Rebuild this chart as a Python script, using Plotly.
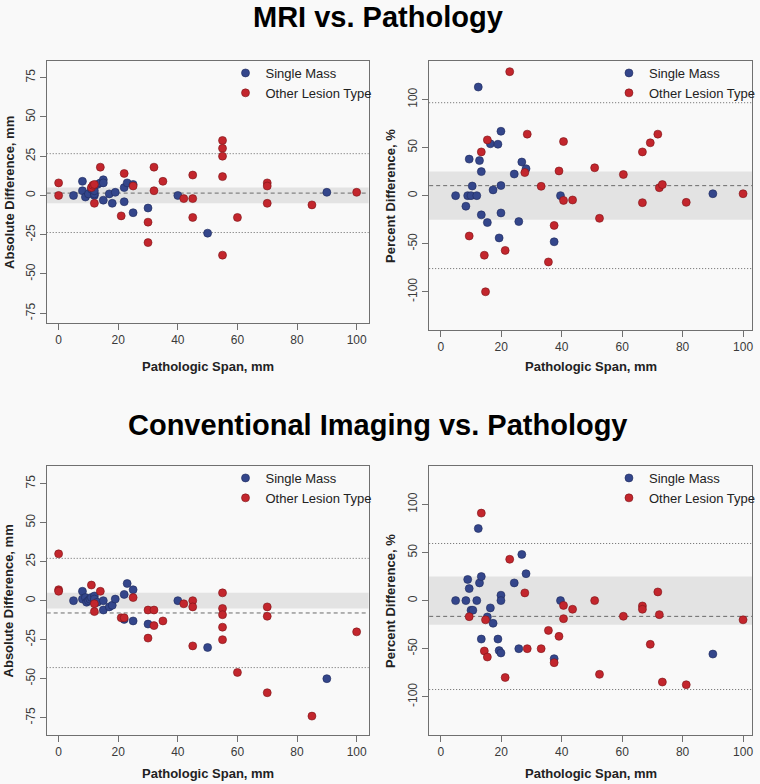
import plotly.graph_objects as go

# ---------------- data ----------------
# MRI vs Pathology, absolute difference (mm)
mri_abs_single_x = [5, 8, 8, 9, 10, 11, 12, 12, 12, 13, 14, 15, 15, 15, 17, 18, 19, 22, 22, 23, 25, 25, 30, 40, 50, 90]
mri_abs_single_y = [0, 9, 3, -1, 1, 4, 0, 1, 3, 7, 8, 10, 8, -3, 1, -5, 2, 5, -4, 8, 7, -11, -8, 0, -24, 2]
mri_abs_other_x = [0, 0, 11, 11.5, 12, 12, 14, 21, 22, 25, 30, 30, 32, 32, 35, 42, 45, 45, 45, 55, 55, 55, 55, 55, 60, 70, 70, 70, 85, 100]
mri_abs_other_y = [8, 0, 5, 6.5, 7, -5, 18, -13, 14, 6, -17, -30, 18, 3, 9, -2, 13, -2, -14, 35, 30, 25, 12, -38, -14, 8, 6, -5, -6, 2]

# MRI vs Pathology, percent difference (%)
mri_pct_single_x = [4.9, 8.3, 8.9, 9.4, 10, 10.4, 11.9, 12.4, 12.8, 13.4, 13.4, 15.4, 16.4, 17.3, 18.9, 19.3, 19.9, 19.9, 19.9, 24.3, 25.8, 26.8, 28.2, 37.5, 39.6, 90]
mri_pct_single_y = [0, -11, 0, 38, 0, 10, 0, 113, 36.5, 25, -20, -28, 54, 6, 53.5, -44, 67, 10.5, -18, 22.5, -27, 35, 28, -48, 0, 2]
mri_pct_other_x = [9.4, 13.4, 14.4, 14.8, 15.4, 21.3, 22.8, 27.8, 28.6, 33.2, 35.6, 37.5, 39.1, 40.6, 40.6, 43.6, 50.9, 52.5, 60.4, 66.7, 66.7, 69.3, 71.8, 72.3, 73.3, 81.2, 100]
mri_pct_other_y = [-42, 45.5, -62, -100, 58, -57, 129, 24, 64, 9.7, -69, -31, 25.7, 56.3, -5, -4.5, 29, -23.6, 22, 45.5, -7.3, 55, 64, 8.3, 11.5, -7, 2]

# Conventional imaging vs Pathology, absolute difference (mm)
ci_abs_single_x = [5, 8, 8, 9, 9.4, 10, 10.5, 11, 12, 12, 12, 13, 15, 15, 17, 18, 19, 22, 22, 23, 25, 25, 30, 40, 50, 90]
ci_abs_single_y = [0, 6, 1, 2, -1, 0, 1, 2, 3, 0, 1, -1, 0, -6, -4, -3, 1, 4, -12, 11, 7, -13, -15, 0, -30, -50]
ci_abs_other_x = [0, 0, 0, 11, 12, 12, 14, 21, 22, 25, 30, 30, 32, 32, 35, 42, 45, 45, 45, 55, 55, 55, 55, 55, 60, 70, 70, 70, 85, 100]
ci_abs_other_y = [30, 7, 6, 10, -2, -7, 6, -11, -11, 2, -6, -24, -6, -16, -13, -2, 0, -4, -29, 5, -5, -9, -17, -25, -46, -4, -10, -59, -74, -20]

# Conventional imaging vs Pathology, percent difference (%)
ci_pct_single_x = [4.9, 8.3, 8.9, 9.4, 10, 10.6, 11.9, 12.4, 12.8, 13.4, 13.4, 15.4, 16.4, 17.3, 18.9, 19.3, 19.9, 19.9, 19.9, 24.3, 25.8, 26.8, 28.2, 37.5, 39.6, 90]
ci_pct_single_y = [0, 0, 22, 12.5, -10, -10, 0, 75, 18.4, 25, -40, -17, -7.6, -23.6, -40, -52, -54.5, 5.6, 0, 18.4, -50, 48, 28, -60.4, 0, -55.6]
ci_pct_other_x = [9.4, 13.4, 14.4, 14.8, 15.4, 21.3, 22.8, 27.8, 28.6, 33.2, 35.6, 37.5, 39.1, 40.6, 40.6, 43.6, 50.9, 52.5, 60.4, 66.7, 66.7, 69.3, 71.8, 72.3, 73.3, 81.2, 100]
ci_pct_other_y = [-16.7, 91, -52.4, -20, -58.7, -80, 43, 8, -50, -50, -31, -64.6, -37.2, -5, -18.8, -9, 0, -76.7, -16.3, -5.6, -9, -45.5, 9, -14.6, -84.7, -87.5, -20]

# Bland-Altman reference values: [mean bias, lower limit, upper limit]
mri_abs_ref = [1.5, -23.6, 26.6]
mri_pct_ref = [10.4, -75.9, 96.7]
ci_abs_ref = [-7.9, -42.9, 27.1]
ci_pct_ref = [-16.4, -92.5, 59.4]
abs_band = [-5, 5]
pct_band = [-25, 25]

x_ticks = [0, 20, 40, 60, 80, 100]
abs_ticks = [-75, -50, -25, 0, 25, 50, 75]
pct_ticks = [-100, -50, 0, 50, 100]

titles = ["MRI vs. Pathology", "Conventional Imaging vs. Pathology"]
series_names = ["Single Mass", "Other Lesion Type"]
x_title = "Pathologic Span, mm"
abs_title = "Absolute Difference, mm"
pct_title = "Percent Difference, %"

# ---------------- style ----------------
W, H = 760, 784
BG = "#F9F9F9"
BLUE = "#34468B"
RED = "#C3262D"
AXC = "#707070"
FONT = "Liberation Sans, Arial, sans-serif"


def px(x):
    return x / W


def py(y):
    return 1 - y / H


panels = [
    dict(sx=mri_abs_single_x, sy=mri_abs_single_y, ox=mri_abs_other_x, oy=mri_abs_other_y,
         ref=mri_abs_ref, band=abs_band, yt=abs_ticks, xd=(47, 371), yd=(61, 323),
         xr=[-4, 104], yr=[-81.2, 85.6], yt_title=abs_title, xtitle_y=367, ytitle_x=9),
    dict(sx=mri_pct_single_x, sy=mri_pct_single_y, ox=mri_pct_other_x, oy=mri_pct_other_y,
         ref=mri_pct_ref, band=pct_band, yt=pct_ticks, xd=(432, 757), yd=(61, 330),
         xr=[-3.85, 102.96], yr=[-139.8, 140.1], yt_title=pct_title, xtitle_y=367, ytitle_x=393),
    dict(sx=ci_abs_single_x, sy=ci_abs_single_y, ox=ci_abs_other_x, oy=ci_abs_other_y,
         ref=ci_abs_ref, band=abs_band, yt=abs_ticks, xd=(47, 371), yd=(466, 735),
         xr=[-4, 104], yr=[-86.1, 86.3], yt_title=abs_title, xtitle_y=773, ytitle_x=9),
    dict(sx=ci_pct_single_x, sy=ci_pct_single_y, ox=ci_pct_other_x, oy=ci_pct_other_y,
         ref=ci_pct_ref, band=pct_band, yt=pct_ticks, xd=(432, 757), yd=(466, 735),
         xr=[-3.85, 102.96], yr=[-139.8, 140.0], yt_title=pct_title, xtitle_y=773, ytitle_x=393),
]

fig = go.Figure()
shapes = []
annotations = []
layout_axes = {}

for i, p in enumerate(panels):
    n = i + 1
    sfx = "" if n == 1 else str(n)
    xa, ya = "x" + sfx, "y" + sfx
    lg = "legend" + sfx
    for name, xs, ys, col, lc in [(series_names[0], p["sx"], p["sy"], BLUE, "#1E2A5C"),
                                  (series_names[1], p["ox"], p["oy"], RED, "#7A1418")]:
        fig.add_trace(go.Scatter(
            x=xs, y=ys, mode="markers", name=name, xaxis=xa, yaxis=ya, legend=lg,
            marker=dict(size=8, color=col, line=dict(color=lc, width=0.6)),
            showlegend=True, cliponaxis=False))
    layout_axes["xaxis" + sfx] = dict(
        domain=[px(p["xd"][0]), px(p["xd"][1])], anchor=ya, range=p["xr"],
        tickmode="array", tickvals=x_ticks, ticktext=[str(v) for v in x_ticks],
        ticks="outside", ticklen=6, tickcolor=AXC,
        showline=True, linecolor=AXC, linewidth=1, mirror=True, showgrid=False, zeroline=False,
        tickfont=dict(family=FONT, size=12, color="#3A3A3A"))
    layout_axes["yaxis" + sfx] = dict(
        domain=[py(p["yd"][1]), py(p["yd"][0])], anchor=xa, range=p["yr"],
        tickmode="array", tickvals=p["yt"], ticktext=[str(v) for v in p["yt"]],
        ticks="outside", ticklen=6, tickcolor=AXC,
        showline=True, linecolor=AXC, linewidth=1, mirror=True, showgrid=False, zeroline=False,
        tickangle=-90, tickfont=dict(family=FONT, size=12, color="#3A3A3A"))
    # agreement band
    shapes.append(dict(type="rect", xref=xa + " domain", yref=ya, x0=0, x1=1,
                       y0=p["band"][0], y1=p["band"][1], fillcolor="#E3E3E3",
                       line=dict(width=0), layer="below"))
    # mean bias line
    shapes.append(dict(type="line", xref=xa + " domain", yref=ya, x0=0, x1=1,
                       y0=p["ref"][0], y1=p["ref"][0],
                       line=dict(color="#6A6A6A", width=1, dash="4px,3px"), layer="below"))
    # limits of agreement
    for v in p["ref"][1:]:
        shapes.append(dict(type="line", xref=xa + " domain", yref=ya, x0=0, x1=1,
                           y0=v, y1=v, line=dict(color="#666666", width=1, dash="1px,2px"),
                           layer="below"))
    # axis titles
    annotations.append(dict(text="<b>%s</b>" % x_title, xref="paper", yref="paper",
                            x=px((p["xd"][0] + p["xd"][1]) / 2), y=py(p["xtitle_y"]),
                            xanchor="center", yanchor="middle", showarrow=False,
                            font=dict(family=FONT, size=13, color="#222222")))
    annotations.append(dict(text="<b>%s</b>" % p["yt_title"], xref="paper", yref="paper",
                            x=px(p["ytitle_x"]), y=py((p["yd"][0] + p["yd"][1]) / 2),
                            xanchor="center", yanchor="middle", textangle=-90, showarrow=False,
                            font=dict(family=FONT, size=13, color="#222222")))
    layout_axes[lg] = dict(x=px(p["xd"][1] - 144), y=py(p["yd"][0] - 3), xanchor="left", yanchor="top",
                           bgcolor="rgba(0,0,0,0)", borderwidth=0,
                           font=dict(family=FONT, size=13, color="#222222"),
                           itemwidth=30, tracegroupgap=0)

annotations.append(dict(text="<b>%s</b>" % titles[0], xref="paper", yref="paper",
                        x=0.5, y=py(17), xanchor="center", yanchor="middle", showarrow=False,
                        font=dict(family=FONT, size=29, color="#000000")))
annotations.append(dict(text="<b>%s</b>" % titles[1], xref="paper", yref="paper",
                        x=0.5, y=py(425), xanchor="center", yanchor="middle", showarrow=False,
                        font=dict(family=FONT, size=29, color="#000000")))

fig.update_layout(
    width=W, height=H, margin=dict(l=0, r=0, t=0, b=0),
    paper_bgcolor=BG, plot_bgcolor=BG, shapes=shapes, annotations=annotations,
    **layout_axes)

fig.write_html("out.html", config={"displayModeBar": False},
               post_script="document.body.style.margin='0';document.body.style.overflow='hidden';")
